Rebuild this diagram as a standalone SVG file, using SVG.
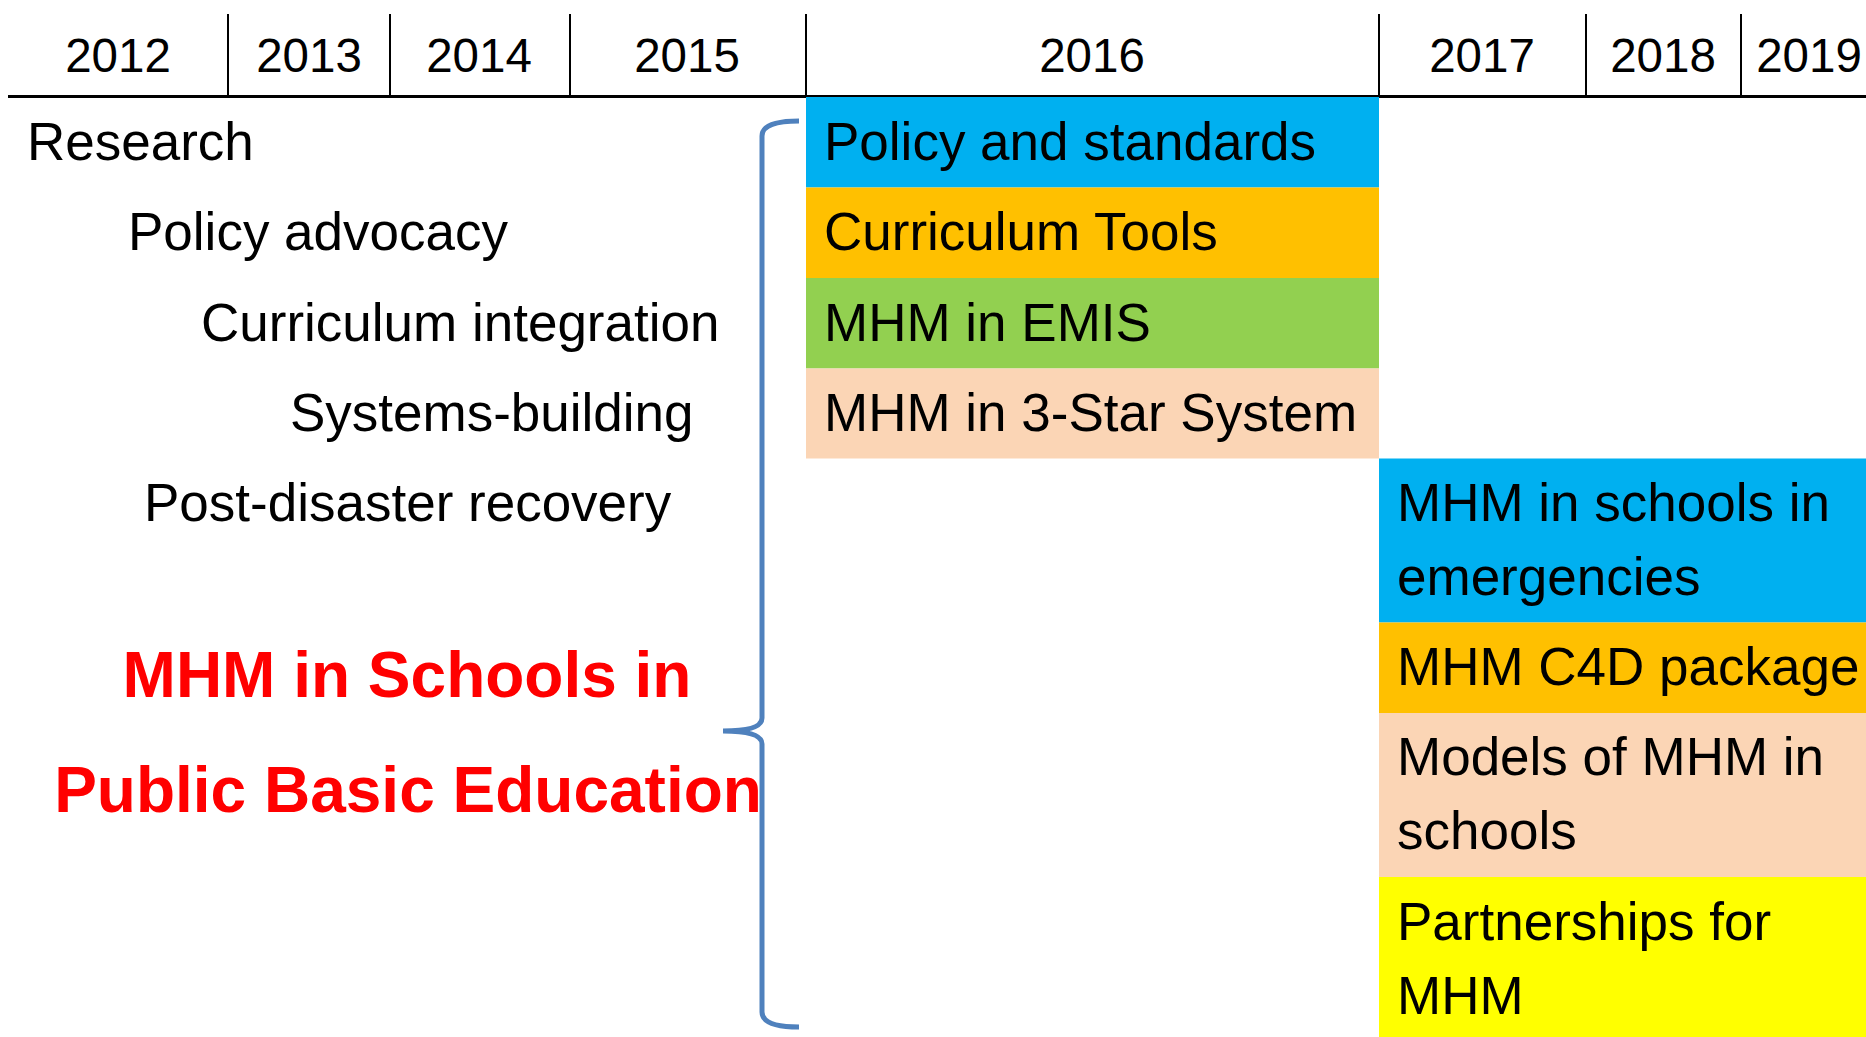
<svg xmlns="http://www.w3.org/2000/svg" width="1866" height="1037" viewBox="0 0 1866 1037">
<style>
text{font-family:"Liberation Sans",Arial,sans-serif;fill:#000}
.yr{font-size:47.5px;text-anchor:middle}
.lbl{font-size:53px}
.ttl{font-size:64px;font-weight:bold;fill:#FF0000;text-anchor:middle}
.grid{stroke:#000;stroke-width:2;fill:none}
.blue{fill:#00B0F0}.orange{fill:#FFC000}.green{fill:#92D050}.peach{fill:#FBD5B5}.yellow{fill:#FFFF00}
</style>
<rect width="1866" height="1037" fill="#fff"/>
<g id="header">
<line class="grid" x1="8" y1="96.5" x2="1866" y2="96.5" style="stroke-width:3"/>
<line class="grid" x1="228" y1="14" x2="228" y2="96"/>
<line class="grid" x1="390" y1="14" x2="390" y2="96"/>
<line class="grid" x1="570" y1="14" x2="570" y2="96"/>
<line class="grid" x1="806" y1="14" x2="806" y2="96"/>
<line class="grid" x1="1379" y1="14" x2="1379" y2="96"/>
<line class="grid" x1="1586" y1="14" x2="1586" y2="96"/>
<line class="grid" x1="1741" y1="14" x2="1741" y2="96"/>
<text class="yr" x="118" y="72">2012</text>
<text class="yr" x="309" y="72">2013</text>
<text class="yr" x="479" y="72">2014</text>
<text class="yr" x="687" y="72">2015</text>
<text class="yr" x="1092" y="72">2016</text>
<text class="yr" x="1482" y="72">2017</text>
<text class="yr" x="1663" y="72">2018</text>
<text class="yr" x="1809" y="72">2019</text>
</g>
<g id="left-labels">
<text class="lbl" x="27" y="160">Research</text>
<text class="lbl" x="128" y="250">Policy advocacy</text>
<text class="lbl" x="201" y="341">Curriculum integration</text>
<text class="lbl" x="290" y="431">Systems-building</text>
<text class="lbl" x="144" y="521">Post-disaster recovery</text>
</g>
<g id="title">
<text class="ttl" x="407" y="697">MHM in Schools in</text>
<text class="ttl" x="408" y="812">Public Basic Education</text>
</g>
<g id="policy-standards"><rect class="blue" x="806" y="97" width="573" height="90.5"/><text class="lbl" x="824" y="160">Policy and standards</text></g>
<g id="curriculum-tools"><rect class="orange" x="806" y="187.5" width="573" height="90.5"/><text class="lbl" x="824" y="250">Curriculum Tools</text></g>
<g id="mhm-emis"><rect class="green" x="806" y="278" width="573" height="90.5"/><text class="lbl" x="824" y="341">MHM in EMIS</text></g>
<g id="mhm-3star"><rect class="peach" x="806" y="368.5" width="573" height="90"/><text class="lbl" x="824" y="431">MHM in 3-Star System</text></g>
<g id="mhm-emergencies"><rect class="blue" x="1379" y="458.5" width="487" height="164"/><text class="lbl" x="1397" y="521">MHM in schools in</text><text class="lbl" x="1397" y="595">emergencies</text></g>
<g id="mhm-c4d"><rect class="orange" x="1379" y="622.5" width="487" height="90.5"/><text class="lbl" x="1397" y="685">MHM C4D package</text></g>
<g id="models-mhm"><rect class="peach" x="1379" y="713" width="487" height="164"/><text class="lbl" x="1397" y="775">Models of MHM in</text><text class="lbl" x="1397" y="849">schools</text></g>
<g id="partnerships"><rect class="yellow" x="1379" y="877" width="487" height="160"/><text class="lbl" x="1397" y="940">Partnerships for</text><text class="lbl" x="1397" y="1014">MHM</text></g>
<g id="connectors">
<path d="M 799 121 Q 762 121 762 136 L 762 718 Q 762 731 723 731 Q 762 731 762 744 L 762 1012 Q 762 1027 799 1027" fill="none" stroke="#4F81BD" stroke-width="5"/>
</g>
</svg>
